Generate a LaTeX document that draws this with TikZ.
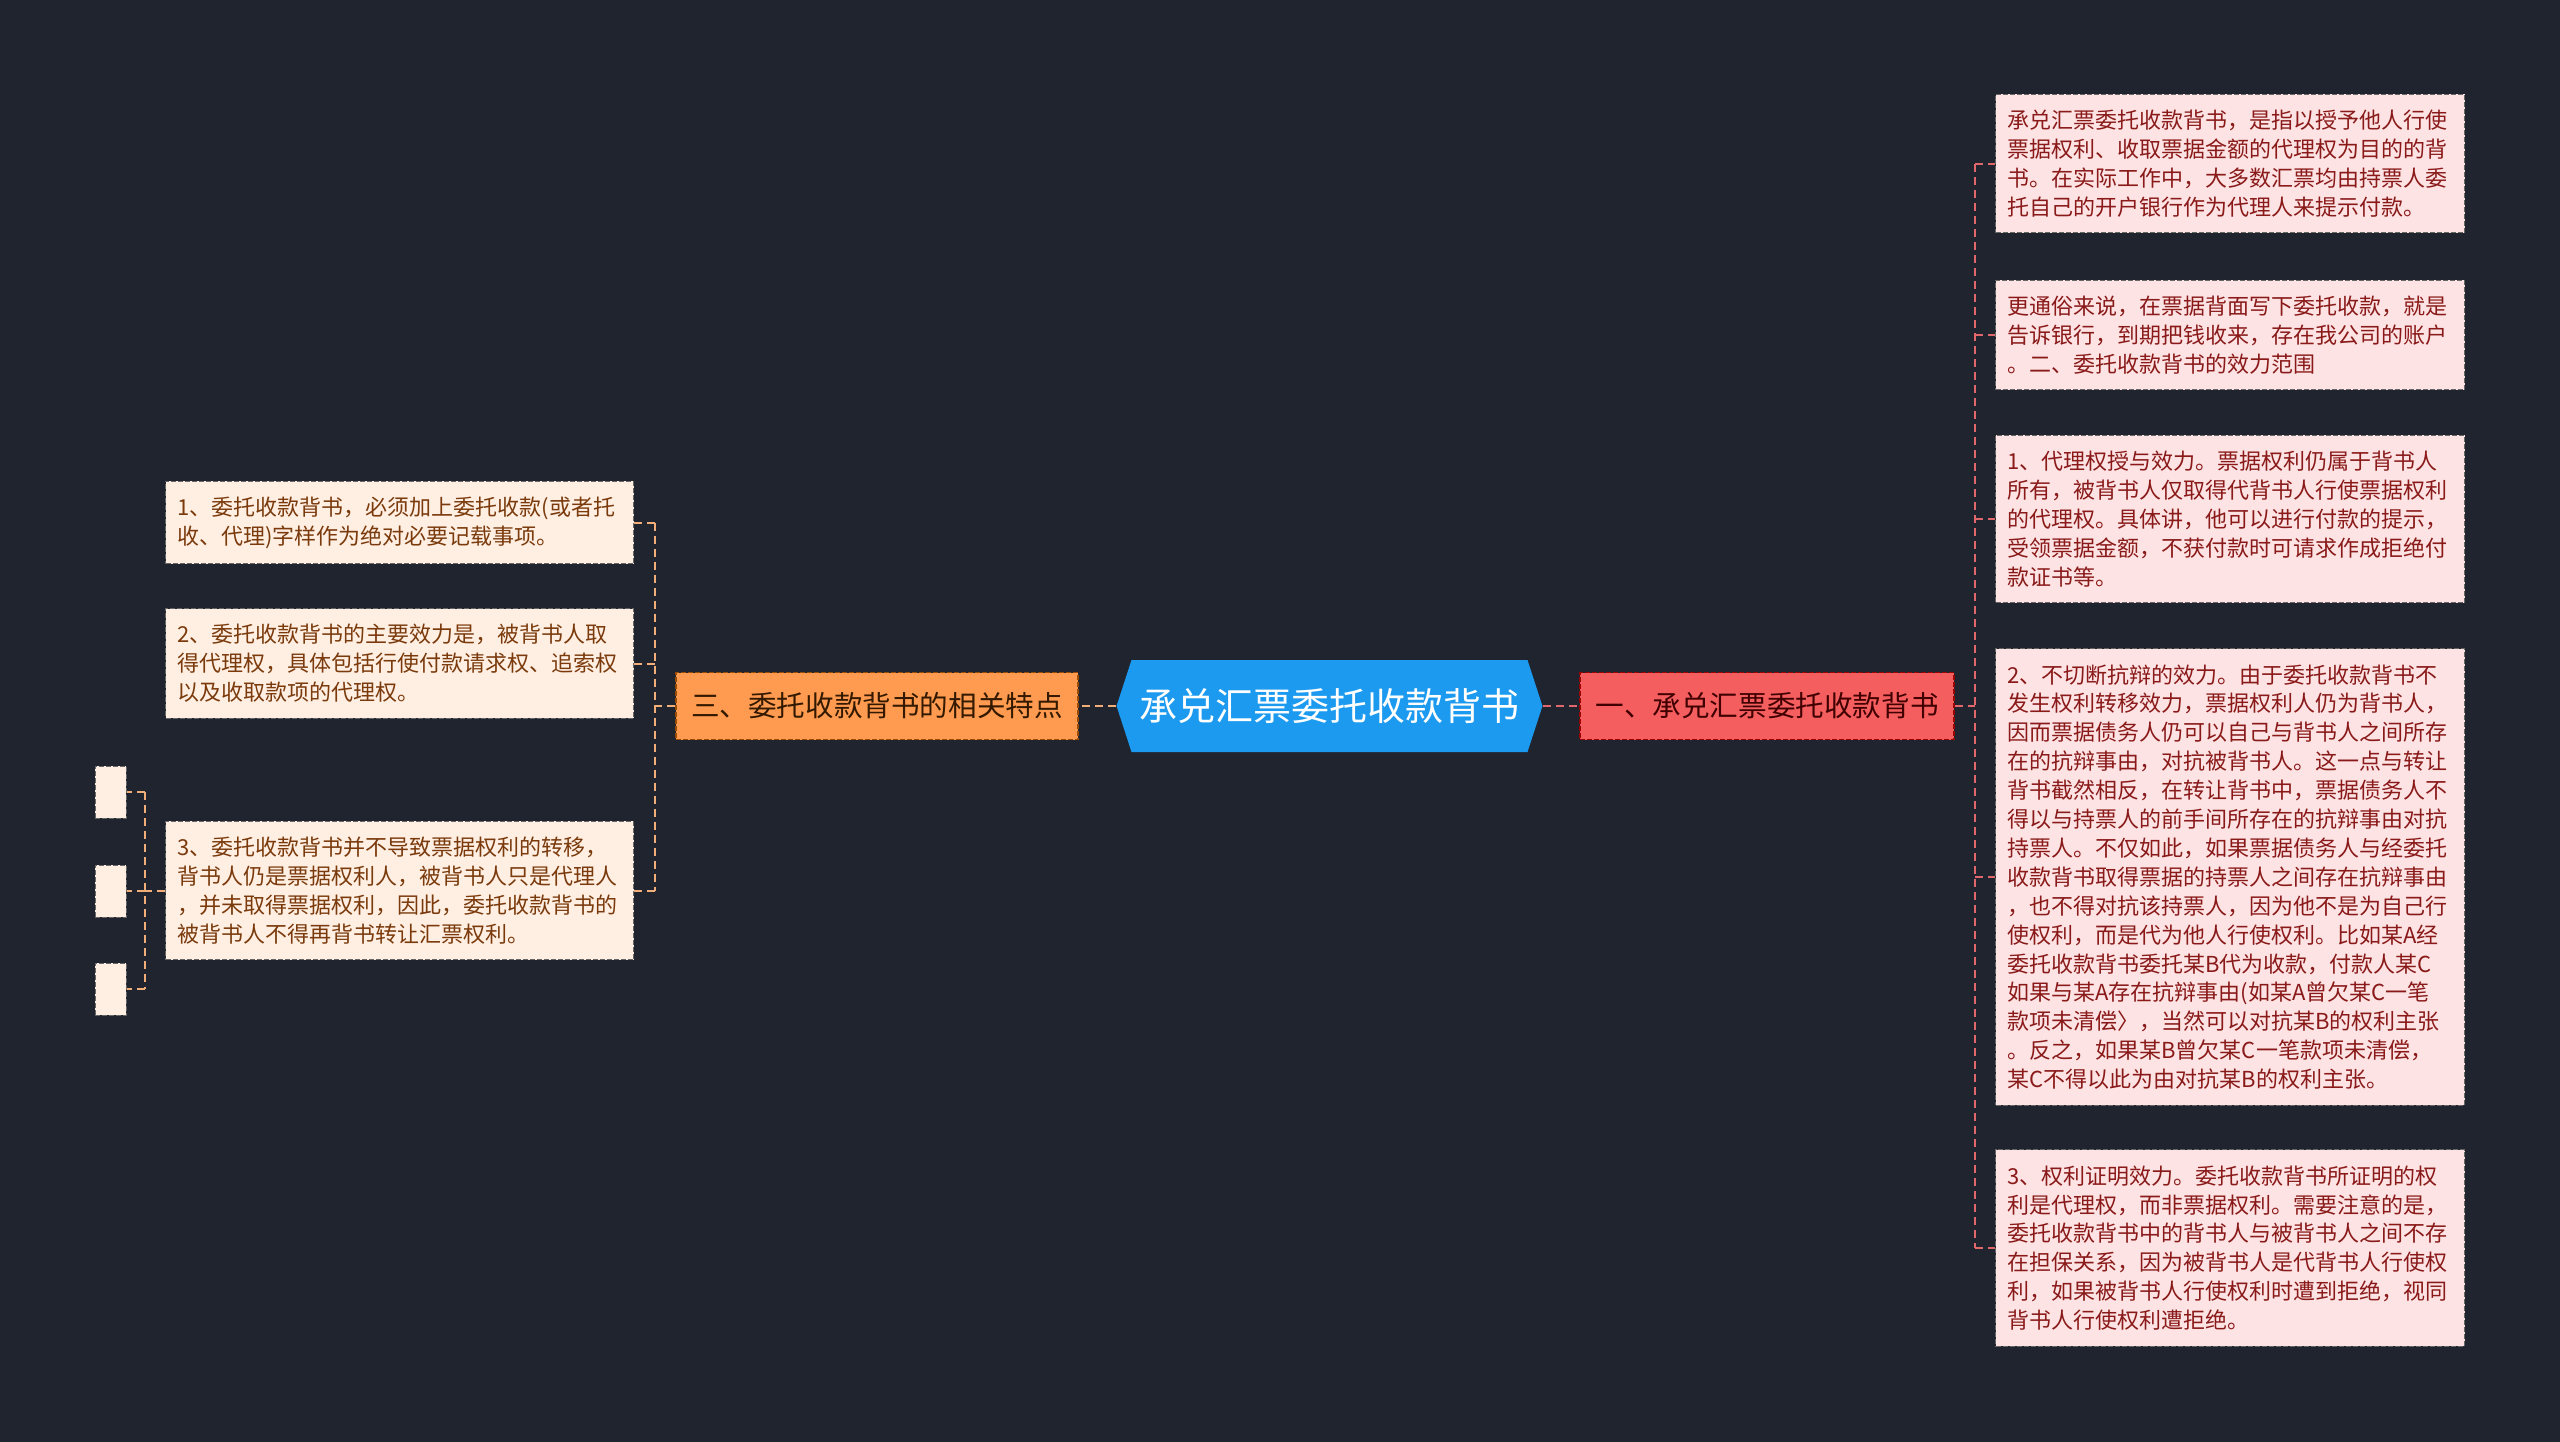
\documentclass[tikz,border=0pt]{standalone}
\usepackage{fontspec}
\newfontfamily\cjk{Noto Sans CJK SC}
\usetikzlibrary{shapes.symbols}

\definecolor{bgnavy}{HTML}{20242F}
\definecolor{rootblue}{HTML}{1B9AEF}
\definecolor{redfill}{HTML}{F55E5E}
\definecolor{orangefill}{HTML}{FF9B50}
\definecolor{pinkleaf}{HTML}{FDE3E3}
\definecolor{peachleaf}{HTML}{FFEFE3}
\definecolor{redtext}{HTML}{8A1A1A}
\definecolor{browntext}{HTML}{7A3A0C}
\definecolor{redlink}{HTML}{E0686A}
\definecolor{orangelink}{HTML}{F2AE78}

\begin{document}
\begin{tikzpicture}[x=0.5pt, y=-0.5pt,
  rootnode/.style={shape=signal, signal to=west and east, signal pointer angle=144,
    fill=rootblue, text=white, minimum height=46pt, minimum width=211.5pt,
    inner xsep=4pt, font=\cjk\fontsize{19pt}{19pt}\selectfont},
  branchbox/.style={minimum height=33.5pt, inner xsep=6pt, line width=0.6pt,
    dash pattern=on 2.5pt off 1pt, font=\cjk\fontsize{14.3pt}{14.3pt}\selectfont},
  leafbox/.style={line width=0.5pt, draw=black!60, dash pattern=on 2.5pt off 1pt,
    inner xsep=6pt, inner ysep=7.8pt, align=left,
    font=\cjk\fontsize{11pt}{14.45pt}\selectfont},
  pinkbox/.style={leafbox, fill=pinkleaf, text=redtext, text width=222.5pt},
  peachbox/.style={leafbox, fill=peachleaf, text=browntext, text width=222pt},
  stubbox/.style={leafbox, fill=peachleaf, minimum width=15.5pt, minimum height=26pt, inner sep=0pt},
  redline/.style={draw=redlink, line width=1pt, dash pattern=on 4pt off 2.5pt},
  orangeline/.style={draw=orangelink, line width=1pt, dash pattern=on 4pt off 2.5pt}]

\path[use as bounding box] (0,0) rectangle (2560,1441);
\fill[bgnavy] (-6,-6) rectangle (2566,1447);

% centre and the two branches
\node[rootnode] (root) at (1329.5,706) {承兑汇票委托收款背书};
\node[branchbox, fill=redfill, draw=red!60!black, text=red!25!black, minimum width=187pt] (bone) at (1767,706) {一、承兑汇票委托收款背书};
\node[branchbox, fill=orangefill, draw=orange!60!black, text=orange!20!black, minimum width=201pt] (bthree) at (877,706) {三、委托收款背书的相关特点};

% right leaves
\node[pinkbox, anchor=west] (r1) at (1995,163.5) {承兑汇票委托收款背书，是指以授予他人行使\\票据权利、收取票据金额的代理权为目的的背\\书。在实际工作中，大多数汇票均由持票人委\\托自己的开户银行作为代理人来提示付款。};
\node[pinkbox, anchor=west] (r2) at (1995,335) {更通俗来说，在票据背面写下委托收款，就是\\告诉银行，到期把钱收来，存在我公司的账户\\。二、委托收款背书的效力范围};
\node[pinkbox, anchor=west] (r3) at (1995,519) {1、代理权授与效力。票据权利仍属于背书人\\所有，被背书人仅取得代背书人行使票据权利\\的代理权。具体讲，他可以进行付款的提示，\\受领票据金额，不获付款时可请求作成拒绝付\\款证书等。};
\node[pinkbox, anchor=west] (r4) at (1995,877) {2、不切断抗辩的效力。由于委托收款背书不\\发生权利转移效力，票据权利人仍为背书人，\\因而票据债务人仍可以自己与背书人之间所存\\在的抗辩事由，对抗被背书人。这一点与转让\\背书截然相反，在转让背书中，票据债务人不\\得以与持票人的前手间所存在的抗辩事由对抗\\持票人。不仅如此，如果票据债务人与经委托\\收款背书取得票据的持票人之间存在抗辩事由\\，也不得对抗该持票人，因为他不是为自己行\\使权利，而是代为他人行使权利。比如某A经\\委托收款背书委托某B代为收款，付款人某C\\如果与某A存在抗辩事由(如某A曾欠某C一笔\\款项未清偿〉，当然可以对抗某B的权利主张\\。反之，如果某B曾欠某C一笔款项未清偿，\\某C不得以此为由对抗某B的权利主张。};
\node[pinkbox, anchor=west] (r5) at (1995,1248) {3、权利证明效力。委托收款背书所证明的权\\利是代理权，而非票据权利。需要注意的是，\\委托收款背书中的背书人与被背书人之间不存\\在担保关系，因为被背书人是代背书人行使权\\利，如果被背书人行使权利时遭到拒绝，视同\\背书人行使权利遭拒绝。};

% left leaves
\node[peachbox, anchor=east] (l1) at (634,522.5) {1、委托收款背书，必须加上委托收款(或者托\\收、代理)字样作为绝对必要记载事项。};
\node[peachbox, anchor=east] (l2) at (634,663.5) {2、委托收款背书的主要效力是，被背书人取\\得代理权，具体包括行使付款请求权、追索权\\以及收取款项的代理权。};
\node[peachbox, anchor=east] (l3) at (634,890.5) {3、委托收款背书并不导致票据权利的转移，\\背书人仍是票据权利人，被背书人只是代理人\\，并未取得票据权利，因此，委托收款背书的\\被背书人不得再背书转让汇票权利。};

% empty boxes
\node[stubbox] (s1) at (110.5,792) {};
\node[stubbox] (s2) at (110.5,891) {};
\node[stubbox] (s3) at (110.5,989) {};

% connectors
\coordinate (rspine) at (1975,706);
\coordinate (lspine) at (655,706);
\coordinate (sspine) at (145,890.5);
\draw[redline] (root.east) -- (bone.west);
\draw[orangeline] (root.west) -- (bthree.east);
\draw[redline] (bone.east) -- (rspine);
\draw[redline] (rspine |- r1.west) -- (rspine |- r5.west);
\draw[redline] (rspine |- r1.west) -- (r1.west);
\draw[redline] (rspine |- r2.west) -- (r2.west);
\draw[redline] (rspine |- r3.west) -- (r3.west);
\draw[redline] (rspine |- r4.west) -- (r4.west);
\draw[redline] (rspine |- r5.west) -- (r5.west);
\draw[orangeline] (bthree.west) -- (lspine);
\draw[orangeline] (lspine |- l1.east) -- (lspine |- l3.east);
\draw[orangeline] (lspine |- l1.east) -- (l1.east);
\draw[orangeline] (lspine |- l2.east) -- (l2.east);
\draw[orangeline] (lspine |- l3.east) -- (l3.east);
\draw[orangeline] (l3.west) -- (sspine);
\draw[orangeline] (sspine |- s1.east) -- (sspine |- s3.east);
\draw[orangeline] (sspine |- s1.east) -- (s1.east);
\draw[orangeline] (sspine |- s2.east) -- (s2.east);
\draw[orangeline] (sspine |- s3.east) -- (s3.east);
\end{tikzpicture}
\end{document}
